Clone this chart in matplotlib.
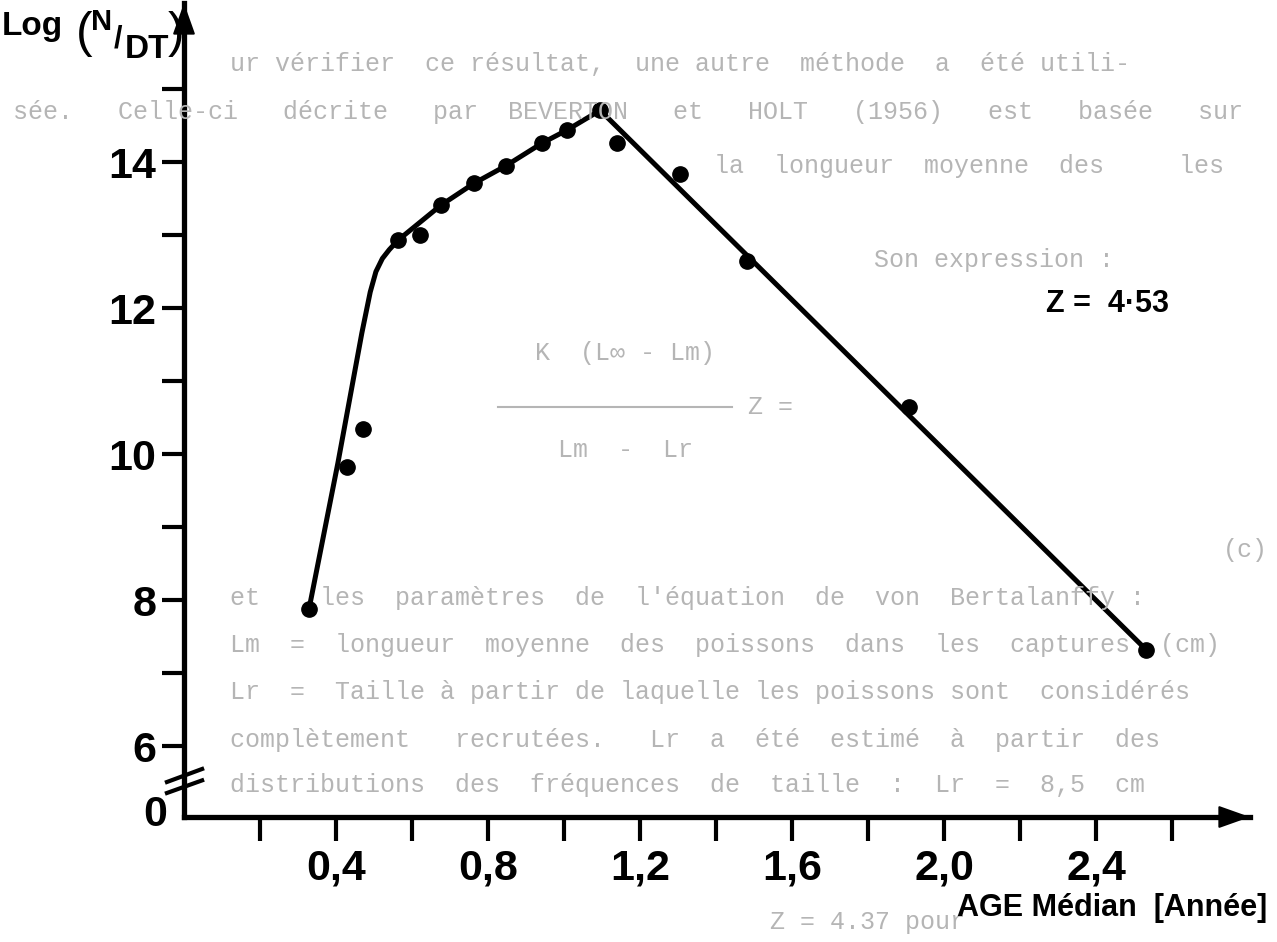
import matplotlib.pyplot as plt

# image size in pixels
W, H = 1277, 942

# measured points: median age (years) vs log(N/DT)
age = [0.329, 0.429, 0.471, 0.563, 0.621, 0.676, 0.763, 0.847, 0.942,
       1.008, 1.095, 1.139, 1.305, 1.482, 1.908, 2.532]
log_ndt = [7.88, 9.82, 10.34, 12.93, 13.00, 13.41, 13.71, 13.95, 14.26,
           14.44, 14.71, 14.26, 13.84, 12.64, 10.64, 7.32]

# hand drawn catch curve
fit_x = [0.329, 0.405, 0.468, 0.490, 0.505, 0.522, 0.540, 0.563, 0.676,
         0.763, 0.847, 0.942, 1.008, 1.095, 2.532]
fit_y = [7.88, 9.88, 11.66, 12.22, 12.50, 12.68, 12.80, 12.93, 13.41,
         13.71, 13.95, 14.26, 14.44, 14.71, 7.32]

x_major = [0.4, 0.8, 1.2, 1.6, 2.0, 2.4]
x_labels = ["0,4", "0,8", "1,2", "1,6", "2,0", "2,4"]
x_minor = [0.2, 0.6, 1.0, 1.4, 1.8, 2.2, 2.6]
y_major = [6, 8, 10, 12, 14]
y_minor = [7, 9, 11, 13, 15]

SANS = ["Liberation Sans", "DejaVu Sans"]
MONO = ["Liberation Mono", "DejaVu Sans Mono"]


def px(x, y):
    return x / W, 1 - y / H


def bleed_through(fig):
    # faint typewritten text showing through from the back of the page
    grey = "#b5b5b5"
    lines = [
        ("ur vérifier  ce résultat,  une autre  méthode  a  été utili-", 230, 64),
        ("sée.   Celle-ci   décrite   par  BEVERTON   et   HOLT   (1956)"
         "   est   basée   sur", 13, 112),
        ("la  longueur  moyenne  des     les", 714, 166),
        ("Son expression :", 874, 260),
        ("K  (L∞ - Lm)", 535, 353),
        ("Z =", 748, 407),
        ("Lm  -  Lr", 558, 450),
        ("et    les  paramètres  de  l'équation  de  von  Bertalanffy :", 230, 598),
        ("Lm  =  longueur  moyenne  des  poissons  dans  les  captures  (cm)", 230, 645),
        ("Lr  =  Taille à partir de laquelle les poissons sont  considérés", 230, 692),
        ("complètement   recrutées.   Lr  a  été  estimé  à  partir  des", 230, 740),
        ("distributions  des  fréquences  de  taille  :  Lr  =  8,5  cm", 230, 785),
        ("Z = 4.37 pour", 770, 922),
    ]
    for s, x, y in lines:
        fig.text(*px(x, y), s, fontsize=18, family=MONO, color=grey,
                 ha="left", va="center", zorder=0)
    fig.text(*px(1268, 550), "(c)", fontsize=18, family=MONO, color=grey,
             ha="right", va="center", zorder=0)
    fig.add_artist(plt.Line2D([498 / W, 732 / W], [1 - 407 / H, 1 - 407 / H],
                              color=grey, lw=1.5, zorder=0))


def main():
    fig = plt.figure(figsize=(W / 100, H / 100), dpi=100, facecolor="white")
    bleed_through(fig)

    ax = fig.add_axes([184 / W, 1 - 817 / H, (1250 - 184) / W, (817 - 3) / H])
    ax.patch.set_alpha(0)
    ax.set_xlim(0, 2.805)
    ax.set_ylim(5.03, 16.18)

    for side in ["top", "right"]:
        ax.spines[side].set_visible(False)
    for side in ["left", "bottom"]:
        ax.spines[side].set_linewidth(3.8)
        ax.spines[side].set_capstyle("projecting")

    ax.set_xticks(x_major)
    ax.set_xticklabels(x_labels)
    ax.set_xticks(x_minor, minor=True)
    ax.set_yticks(y_major)
    ax.set_yticks(y_minor, minor=True)
    ax.tick_params(which="both", direction="out", width=3, color="black")
    ax.tick_params(axis="x", which="both", length=17, pad=6)
    ax.tick_params(axis="y", which="both", length=16, pad=4)
    for lab in ax.get_xticklabels() + ax.get_yticklabels():
        lab.set_fontsize(31)
        lab.set_fontweight("bold")
        lab.set_family(SANS)

    # arrow heads on the axes
    head = dict(arrowstyle="-|>,head_length=0.9,head_width=0.32", color="black",
                lw=1.5, shrinkA=0, shrinkB=0, mutation_scale=22)
    ax.annotate("", xy=(1.0, 0), xytext=(0.96, 0), xycoords="axes fraction",
                arrowprops=head, annotation_clip=False)
    ax.annotate("", xy=(0, 1.0), xytext=(0, 0.95), xycoords="axes fraction",
                arrowprops=head, annotation_clip=False)

    # axis break marks
    ax.plot([-0.016, 0.017], [0.043, 0.059], transform=ax.transAxes,
            color="black", lw=3, clip_on=False)
    ax.plot([-0.016, 0.017], [0.0295, 0.045], transform=ax.transAxes,
            color="black", lw=3, clip_on=False)

    ax.plot(fit_x, fit_y, color="black", lw=3.6, solid_capstyle="round",
            solid_joinstyle="round", zorder=3)
    ax.plot(age, log_ndt, "o", color="black", ms=11, zorder=4)

    # texts
    fig.text(*px(155, 815), "0", fontsize=31, fontweight="bold", family=SANS,
             ha="center", va="center")
    fig.text(*px(2, 27), "Log", fontsize=24, fontweight="bold", family=SANS,
             ha="left", va="center")
    fig.text(*px(84, 34), "(", fontsize=36, family=SANS, ha="center", va="center")
    fig.text(*px(102, 22), "N", fontsize=21, fontweight="bold", family=SANS,
             ha="center", va="center")
    fig.text(*px(118, 40), "/", fontsize=22, fontweight="bold", family=SANS,
             ha="center", va="center")
    fig.text(*px(147, 50), "DT", fontsize=24, fontweight="bold", family=SANS,
             ha="center", va="center")
    fig.text(*px(176, 34), ")", fontsize=36, family=SANS, ha="center", va="center")

    fig.text(*px(1107, 304), "Z =  4·53", fontsize=22, fontweight="bold",
             family=SANS, ha="center", va="center")
    fig.text(*px(1267, 908), "AGE Médian  [Année]", fontsize=22,
             fontweight="bold", family=SANS, ha="right", va="center")

    fig.savefig("out.png", dpi=100, facecolor="white")


if __name__ == "__main__":
    main()
